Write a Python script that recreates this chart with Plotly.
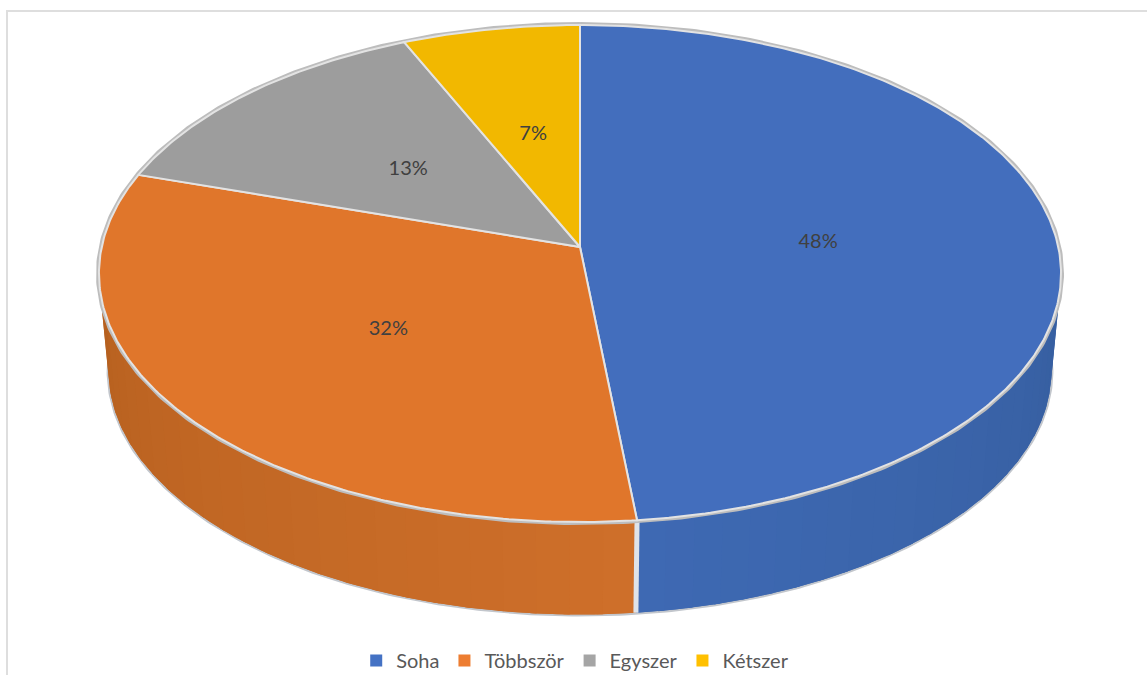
import math
import plotly.graph_objects as go

categories = ["Soha", "Többször", "Egyszer", "Kétszer"]
shares = [48.3, 31.6, 13.49, 6.61]
top_colors = ["#436EBD", "#E0762B", "#9D9D9D", "#F2B800"]
legend_colors = ["#4472C4", "#ED7D31", "#A5A5A5", "#FFC000"]
wall_start = ["#365E9F", "#CE6F2A", "#808080", "#C09000"]
wall_end = ["#3E69B3", "#B6601F", "#808080", "#C09000"]

W, H = 1147, 675
CX, CY = 580, 247
A, B, K = 478.3, 245.7, 0.1066
DEPTH, SHRINK = 98, 0.98
LABEL_DY = 2.5


def project(theta, r=1.0, low=False):
    u, v = r * math.sin(theta), r * math.cos(theta)
    s = SHRINK if low else 1.0
    d = DEPTH if low else 0.0
    den = 1 + K * v
    return CX + s * A * u / den, CY + d - s * B * v / den


def arc(t0, t1, low=False, step=0.01):
    n = max(2, int(abs(t1 - t0) / step))
    pts = [project(t0 + (t1 - t0) * i / n, low=low) for i in range(n + 1)]
    return [p[0] for p in pts], [p[1] for p in pts]


def mix(c0, c1, f):
    a = [int(c0[i:i + 2], 16) for i in (1, 3, 5)]
    b = [int(c1[i:i + 2], 16) for i in (1, 3, 5)]
    return "rgb(%d,%d,%d)" % tuple(round(x + (y - x) * f) for x, y in zip(a, b))


fig = go.Figure()
total = sum(shares)
edges = [0.0]
for s in shares:
    edges.append(edges[-1] + 2 * math.pi * s / total)

VIS0, VIS1 = math.radians(92), math.radians(268)

# outer silhouette of wall
xa, ya = arc(VIS0, VIS1, low=True)
fig.add_trace(go.Scatter(x=xa, y=ya, mode="lines", line=dict(color="#C2C6CC", width=4),
                         hoverinfo="skip", showlegend=False))

# walls: a solid base, then shaded bands
for i, (name, t0, t1) in enumerate(zip(categories, edges[:-1], edges[1:])):
    a0, a1 = max(t0, VIS0), min(t1, VIS1)
    if a1 <= a0:
        continue
    xt, yt = arc(a0, a1)
    xb, yb = arc(a0, a1, low=True)
    fig.add_trace(go.Scatter(x=xt + xb[::-1], y=yt + yb[::-1], mode="lines", fill="toself",
                             fillcolor=mix(wall_start[i], wall_end[i], 0.5), line=dict(width=0),
                             hoverinfo="skip", showlegend=False))
    bands = 26
    for b in range(bands):
        s0 = a0 + (a1 - a0) * b / bands
        s1 = min(a1, a0 + (a1 - a0) * (b + 1) / bands + 0.012)
        xt, yt = arc(s0, s1)
        xb, yb = arc(s0, s1, low=True)
        col = mix(wall_start[i], wall_end[i], (b + 0.5) / bands)
        fig.add_trace(go.Scatter(x=xt + xb[::-1], y=yt + yb[::-1], mode="lines", fill="toself",
                                 fillcolor=col, line=dict(width=0), hoverinfo="skip",
                                 showlegend=False))

# wall divider between the two front slices
for t in edges[1:-1]:
    if VIS0 < t < VIS1:
        x0, y0 = project(t)
        x1, y1 = project(t, low=True)
        fig.add_trace(go.Scatter(x=[x0, x1], y=[y0, y1], mode="lines",
                                 line=dict(color="#DFE3E9", width=5),
                                 hoverinfo="skip", showlegend=False))

# outer grey rim
xr, yr = arc(0, 2 * math.pi)
fig.add_trace(go.Scatter(x=xr, y=yr, mode="lines", line=dict(color="#BDBDBD", width=6),
                         hoverinfo="skip", showlegend=False))

# top faces
for i, (name, t0, t1) in enumerate(zip(categories, edges[:-1], edges[1:])):
    xs, ys = arc(t0, t1)
    fig.add_trace(go.Scatter(x=[CX] + xs + [CX], y=[CY] + ys + [CY], mode="lines", fill="toself",
                             fillcolor=top_colors[i], line=dict(color="#E3E3E3", width=2),
                             name=name, hovertemplate=f"{name}: {round(shares[i])}%<extra></extra>",
                             showlegend=False))

# data labels
lx, ly, lt = [], [], []
for s, t0, t1 in zip(shares, edges[:-1], edges[1:]):
    p = project((t0 + t1) / 2, r=0.5)
    lx.append(p[0])
    ly.append(p[1] + LABEL_DY)
    lt.append(f"{round(s)}%")
fig.add_trace(go.Scatter(x=lx, y=ly, mode="text", text=lt,
                         textfont=dict(family="Lato", size=20, color="#404040"),
                         hoverinfo="skip", showlegend=False))

# legend
for name, c in zip(categories, legend_colors):
    fig.add_trace(go.Scatter(x=[None], y=[None], mode="markers", name=name,
                             marker=dict(symbol="square", size=12, color=c)))

fig.update_layout(
    width=W, height=H + 8, autosize=False,
    margin=dict(l=0, r=0, t=0, b=0),
    paper_bgcolor="white", plot_bgcolor="white",
    xaxis=dict(range=[0, W], visible=False, fixedrange=True),
    yaxis=dict(range=[H + 8, 0], visible=False, fixedrange=True),
    legend=dict(orientation="h", x=0.5015, xanchor="center", y=0.0045, yanchor="bottom",
                font=dict(family="Lato", size=20, color="#595959"), itemwidth=30,
                bgcolor="rgba(0,0,0,0)", traceorder="normal"),
    shapes=[
        dict(type="line", xref="x", yref="y", x0=6, x1=W, y0=11, y1=11,
             line=dict(color="#DEDEDE", width=2)),
        dict(type="line", xref="x", yref="y", x0=7, x1=7, y0=10, y1=H + 8,
             line=dict(color="#DEDEDE", width=2)),
    ],
)
fig.write_html("out.html", config={"displayModeBar": False})
with open("out.html", encoding="utf-8") as fh:
    page = fh.read()
page = page.replace("<body>", '<body style="margin:0">', 1)
with open("out.html", "w", encoding="utf-8") as fh:
    fh.write(page)
